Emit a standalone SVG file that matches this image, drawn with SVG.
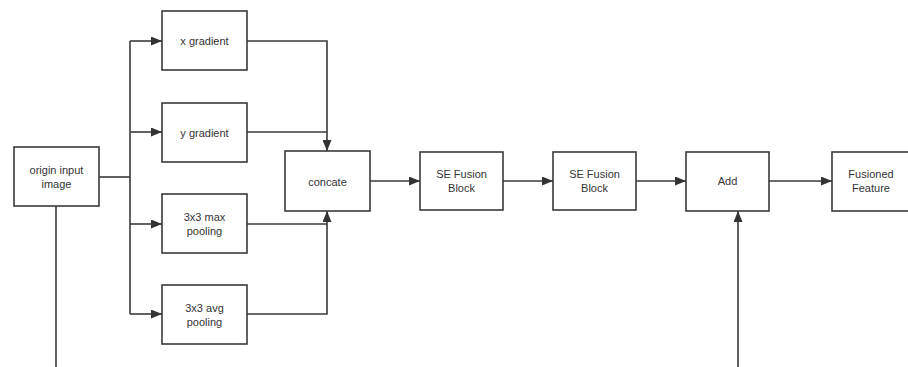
<svg xmlns="http://www.w3.org/2000/svg" width="908" height="367" viewBox="0 0 908 367">
<style>
.box{fill:#fff;stroke:#3a3a3a;stroke-width:1.6}
.t{font-family:"Liberation Sans",Arial,sans-serif;font-size:11px;fill:#333;text-anchor:middle}
.c{fill:none;stroke:#3a3a3a;stroke-width:1.6}
</style>
<defs>
<marker id="ah" markerWidth="11" markerHeight="9" refX="11" refY="4.5" orient="auto" markerUnits="userSpaceOnUse">
<path d="M0,0 L11,4.5 L0,9 Z" fill="#333"/>
</marker>
</defs>
<rect width="908" height="367" fill="#fff"/>
<g id="connectors">
<path class="c" d="M99,177 H130"/>
<path class="c" d="M130,41 V314"/>
<path class="c" d="M130,41 H162" marker-end="url(#ah)"/>
<path class="c" d="M130,132 H162" marker-end="url(#ah)"/>
<path class="c" d="M130,224 H162" marker-end="url(#ah)"/>
<path class="c" d="M130,314 H162" marker-end="url(#ah)"/>
<path class="c" d="M247,41 H327 V151" marker-end="url(#ah)"/>
<path class="c" d="M247,132 H327"/>
<path class="c" d="M247,314 H327 V211" marker-end="url(#ah)"/>
<path class="c" d="M247,224 H327"/>
<path class="c" d="M370,181 H420" marker-end="url(#ah)"/>
<path class="c" d="M503,181 H553" marker-end="url(#ah)"/>
<path class="c" d="M636,181 H686" marker-end="url(#ah)"/>
<path class="c" d="M769,181 H832" marker-end="url(#ah)"/>
<path class="c" d="M56,206 V367"/>
<path class="c" d="M738,367 V211" marker-end="url(#ah)"/>
</g>
<g id="origin">
<rect class="box" x="14" y="147" width="85" height="59"/>
<text class="t" x="56.5" y="174">origin input</text>
<text class="t" x="56.5" y="188">image</text>
</g>
<g id="xgrad">
<rect class="box" x="162" y="11" width="85" height="59"/>
<text class="t" x="204.5" y="45">x gradient</text>
</g>
<g id="ygrad">
<rect class="box" x="162" y="103" width="85" height="59"/>
<text class="t" x="204.5" y="137">y gradient</text>
</g>
<g id="maxpool">
<rect class="box" x="162" y="194" width="85" height="59"/>
<text class="t" x="204.5" y="221">3x3 max</text>
<text class="t" x="204.5" y="235">pooling</text>
</g>
<g id="avgpool">
<rect class="box" x="162" y="285" width="85" height="59"/>
<text class="t" x="204.5" y="312">3x3 avg</text>
<text class="t" x="204.5" y="326">pooling</text>
</g>
<g id="concate">
<rect class="box" x="285" y="151" width="85" height="60"/>
<text class="t" x="327.5" y="186">concate</text>
</g>
<g id="se1">
<rect class="box" x="420" y="152" width="83" height="58"/>
<text class="t" x="461.5" y="178">SE Fusion</text>
<text class="t" x="461.5" y="192">Block</text>
</g>
<g id="se2">
<rect class="box" x="553" y="152" width="83" height="58"/>
<text class="t" x="594.5" y="178">SE Fusion</text>
<text class="t" x="594.5" y="192">Block</text>
</g>
<g id="add">
<rect class="box" x="686" y="152" width="83" height="59"/>
<text class="t" x="727.5" y="185">Add</text>
</g>
<g id="fusioned">
<rect class="box" x="832" y="152" width="83" height="59"/>
<text class="t" x="871" y="178">Fusioned</text>
<text class="t" x="871" y="192">Feature</text>
</g>
</svg>
